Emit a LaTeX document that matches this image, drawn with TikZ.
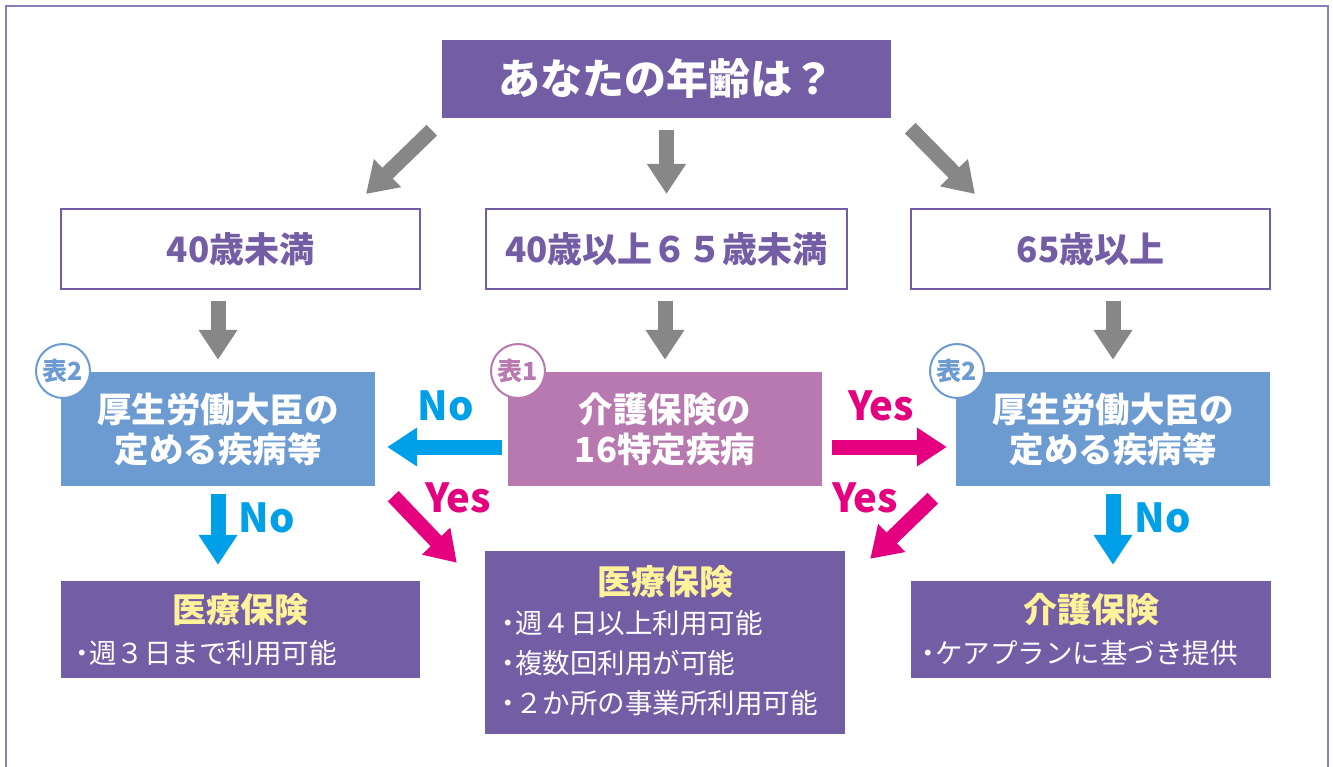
\documentclass[tikz,border=0pt]{standalone}
\usepackage{fontspec}
\setmainfont{Noto Sans CJK JP}
\usetikzlibrary{arrows.meta}
\definecolor{ppl}{HTML}{735DA5}
\definecolor{frm}{HTML}{8A7DC2}
\definecolor{blu}{HTML}{6C9BD2}
\definecolor{mau}{HTML}{B878B0}
\definecolor{gry}{HTML}{878787}
\definecolor{cyn}{HTML}{00A0E9}
\definecolor{mag}{HTML}{E4007F}
\definecolor{ylw}{HTML}{FFF29A}
\newcommand\mybul{\makebox[0.55em][c]{・}}
\tikzset{
  box/.style={rectangle, inner sep=0pt, align=center},
  titlebox/.style={box, fill=ppl, text=white, font=\fontsize{42}{46}\selectfont\bfseries},
  agebox/.style={box, draw=ppl, line width=2pt, fill=white, text=ppl, font=\fontsize{35}{38}\selectfont\bfseries},
  disbox/.style={box, fill=blu, text=white, font=\fontsize{34.5}{40}\selectfont\bfseries},
  midbox/.style={box, fill=mau, text=white, font=\fontsize{34.5}{40}\selectfont\bfseries},
  resbox/.style={box, fill=ppl},
  restitle/.style={inner sep=0pt, text=ylw, font=\fontsize{34}{36}\selectfont\bfseries},
  resline/.style={inner sep=0pt, text=white, align=left, font=\fontsize{27.5}{40}\selectfont},
  badge/.style={circle, draw=#1, line width=2pt, fill=white, text=#1, minimum size=54pt, inner sep=0pt, font=\fontsize{25}{26}\selectfont\bfseries},
  bigarrow/.style={line width=15pt, -{Triangle[length=30pt,width=37pt]}, draw=#1},
  lbl/.style={inner sep=0pt, text=#1, font=\fontsize{40}{40}\selectfont\bfseries},
}
\begin{document}
\begin{tikzpicture}[x=1pt,y=-1pt]
\useasboundingbox (0,0) rectangle (1333,767);
\draw[frm, line width=2pt] (6,800) -- (6,6) -- (1328,6) -- (1328,800);

% title
\node[titlebox, minimum width=449pt, minimum height=78pt] (title) at (666.5,79) {あなたの年齢は？};

% age boxes
\node[agebox, minimum width=359pt, minimum height=80pt] (age1) at (240.5,249) {40歳未満};
\node[agebox, minimum width=361pt, minimum height=80pt] (age2) at (666.5,249) {40歳以上６５歳未満};
\node[agebox, minimum width=359pt, minimum height=80pt] (age3) at (1090.5,249) {65歳以上};

% disease boxes
\node[disbox, minimum width=314pt, minimum height=114pt] (dis1) at (218,429) {厚生労働大臣の\\定める疾病等};
\node[midbox, minimum width=314pt, minimum height=114pt] (dis2) at (665,429) {介護保険の\\16特定疾病};
\node[disbox, minimum width=314pt, minimum height=114pt] (dis3) at (1113,429) {厚生労働大臣の\\定める疾病等};

% badges
\node[badge=blu] (b1) at (63,371) {表2};
\node[badge=mau] (b2) at (518,371) {表1};
\node[badge=blu] (b3) at (957,371) {表2};

% result boxes
\node[resbox, minimum width=359pt, minimum height=97pt] (bot1) at (240.5,629.5) {};
\node[resbox, minimum width=360pt, minimum height=183pt] (bot2) at (665,642.5) {};
\node[resbox, minimum width=360pt, minimum height=97pt] (bot3) at (1091,629.5) {};

\node[restitle] (t1) at (240.5,610) {医療保険};
\node[resline, anchor=west] (l1) at (74,653) {\mybul 週３日まで利用可能};

\node[restitle] (t2) at (665,582) {医療保険};
\node[resline, anchor=north west] (l2) at (500,610) {\mybul 週４日以上利用可能\\\mybul 複数回利用が可能\\\mybul ２か所の事業所利用可能};

\node[restitle] (t3) at (1091,610) {介護保険};
\node[resline, anchor=west] (l3) at (920,653) {\mybul ケアプランに基づき提供};

% gray arrows
\draw[bigarrow=gry] ([shift={(-10,12)}]title.south west) -- ([shift={(-55,-14)}]age1.north east);
\draw[bigarrow=gry] ([shift={(0,12)}]title.south) -- ([shift={(0,-14)}]age2.north);
\draw[bigarrow=gry] ([shift={(19,10)}]title.south east) -- ([shift={(65,-14)}]age3.north west);

\draw[bigarrow=gry] ([shift={(0,11)}]age1.south -| dis1.north) -- ([shift={(0,-12)}]dis1.north);
\draw[bigarrow=gry] ([shift={(0,11)}]age2.south -| dis2.north) -- ([shift={(0,-12)}]dis2.north);
\draw[bigarrow=gry] ([shift={(0,11)}]age3.south -| dis3.north) -- ([shift={(0,-12)}]dis3.north);

% No / Yes arrows
\draw[bigarrow=cyn] ([shift={(-6,18)}]dis2.west) -- ([shift={(12,18)}]dis1.east);
\draw[bigarrow=mag] ([shift={(10,18)}]dis2.east) -- ([shift={(-9,18)}]dis3.west);
\draw[bigarrow=cyn] ([shift={(0,8)}]dis1.south) -- ([shift={(0,-16)}]dis1.south |- bot1.north);
\draw[bigarrow=cyn] ([shift={(0,8)}]dis3.south) -- ([shift={(0,-16)}]dis3.south |- bot3.north);
\draw[bigarrow=mag] ([shift={(18,10)}]dis1.south east) -- ([shift={(-28,12)}]bot2.north west);
\draw[bigarrow=mag] ([shift={(-23,12)}]dis3.south west) -- ([shift={(25,8)}]bot2.north east);

% labels
\node[lbl=cyn] (n1) at (446,406) {No};
\node[lbl=cyn] (n2) at (267,518) {No};
\node[lbl=cyn] (n3) at (1163,518) {No};
\node[lbl=mag] (y1) at (881,406) {Yes};
\node[lbl=mag] (y2) at (458,498) {Yes};
\node[lbl=mag] (y3) at (865,498) {Yes};
\end{tikzpicture}
\end{document}
